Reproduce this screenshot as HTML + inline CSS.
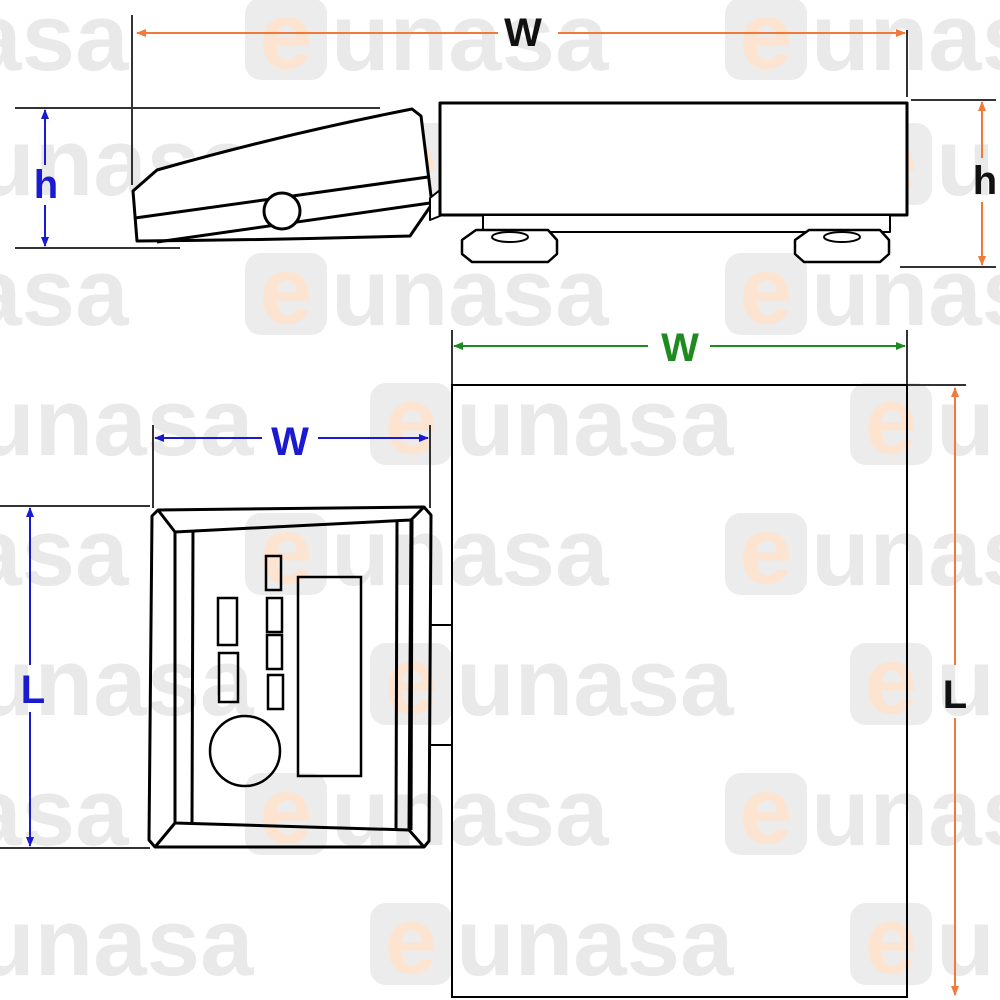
<!DOCTYPE html>
<html><head><meta charset="utf-8"><style>
html,body{margin:0;padding:0;background:#fff}
svg{display:block}
.wt{font-family:"Liberation Sans",sans-serif;font-weight:bold;font-size:100px;fill:#e9e9e9}
.lbl{font-family:"Liberation Sans",sans-serif;font-weight:bold;font-size:40px}
</style></head><body>
<svg width="1000" height="1000" viewBox="0 0 1000 1000" xmlns="http://www.w3.org/2000/svg">
<defs>
<g id="wm">
<rect x="0" y="-42" width="82" height="82" rx="16" fill="#ececec"/>
<text x="41" y="28" text-anchor="middle" class="wt" style="fill:#fde4d0;font-size:95px">e</text>
<text x="86" y="30" class="wt" style="font-size:96px">unasa</text>
</g>
<marker id="ao" markerWidth="10" markerHeight="10" refX="9" refY="5" orient="auto-start-reverse" markerUnits="userSpaceOnUse"><path d="M0,1 L10,5 L0,9 z" fill="#f07a3a"/></marker>
<marker id="ab" markerWidth="10" markerHeight="10" refX="9" refY="5" orient="auto-start-reverse" markerUnits="userSpaceOnUse"><path d="M0,1 L10,5 L0,9 z" fill="#1a1ad0"/></marker>
<marker id="ag" markerWidth="10" markerHeight="10" refX="9" refY="5" orient="auto-start-reverse" markerUnits="userSpaceOnUse"><path d="M0,1 L10,5 L0,9 z" fill="#1f8a1f"/></marker>
</defs>
<!-- watermarks -->
<g>
<use href="#wm" x="-235" y="40"/><use href="#wm" x="245" y="40"/><use href="#wm" x="725" y="40"/>
<use href="#wm" x="-110" y="165"/><use href="#wm" x="370" y="165"/><use href="#wm" x="850" y="165"/>
<use href="#wm" x="-235" y="295"/><use href="#wm" x="245" y="295"/><use href="#wm" x="725" y="295"/>
<use href="#wm" x="-110" y="425"/><use href="#wm" x="370" y="425"/><use href="#wm" x="850" y="425"/>
<use href="#wm" x="-235" y="555"/><use href="#wm" x="245" y="555"/><use href="#wm" x="725" y="555"/>
<use href="#wm" x="-110" y="685"/><use href="#wm" x="370" y="685"/><use href="#wm" x="850" y="685"/>
<use href="#wm" x="-235" y="815"/><use href="#wm" x="245" y="815"/><use href="#wm" x="725" y="815"/>
<use href="#wm" x="-110" y="945"/><use href="#wm" x="370" y="945"/><use href="#wm" x="850" y="945"/>
</g>

<g stroke="#333" stroke-width="2" fill="none">
<!-- extension lines -->
<line x1="132" y1="15" x2="132" y2="185"/>
<line x1="907" y1="30" x2="907" y2="97"/>
<line x1="15" y1="108" x2="380" y2="108"/>
<line x1="15" y1="248" x2="180" y2="248"/>
<line x1="911" y1="100" x2="996" y2="100"/>
<line x1="900" y1="267" x2="996" y2="267"/>
<line x1="452" y1="330" x2="452" y2="385"/>
<line x1="907" y1="330" x2="907" y2="385"/>
<line x1="907" y1="385" x2="966" y2="385"/>
<line x1="153" y1="425" x2="153" y2="508"/>
<line x1="430" y1="425" x2="430" y2="508"/>
<line x1="0" y1="506" x2="150" y2="506"/>
<line x1="0" y1="848" x2="150" y2="848"/>
</g>

<!-- dimension arrows -->
<g stroke-width="2" fill="none">
<line x1="137" y1="33" x2="498" y2="33" stroke="#f07a3a" marker-start="url(#ao)"/>
<line x1="558" y1="33" x2="905" y2="33" stroke="#f07a3a" marker-end="url(#ao)"/>
<line x1="45" y1="110" x2="45" y2="165" stroke="#1a1ad0" marker-start="url(#ab)"/>
<line x1="45" y1="205" x2="45" y2="246" stroke="#1a1ad0" marker-end="url(#ab)"/>
<line x1="982" y1="102" x2="982" y2="158" stroke="#f07a3a" marker-start="url(#ao)"/>
<line x1="982" y1="202" x2="982" y2="265" stroke="#f07a3a" marker-end="url(#ao)"/>
<line x1="454" y1="346" x2="648" y2="346" stroke="#1f8a1f" marker-start="url(#ag)"/>
<line x1="710" y1="346" x2="905" y2="346" stroke="#1f8a1f" marker-end="url(#ag)"/>
<line x1="955" y1="388" x2="955" y2="665" stroke="#f07a3a" marker-start="url(#ao)"/>
<line x1="955" y1="718" x2="955" y2="995" stroke="#f07a3a" marker-end="url(#ao)"/>
<line x1="155" y1="438" x2="262" y2="438" stroke="#1a1ad0" marker-start="url(#ab)"/>
<line x1="318" y1="438" x2="428" y2="438" stroke="#1a1ad0" marker-end="url(#ab)"/>
<line x1="30" y1="508" x2="30" y2="665" stroke="#1a1ad0" marker-start="url(#ab)"/>
<line x1="30" y1="712" x2="30" y2="846" stroke="#1a1ad0" marker-end="url(#ab)"/>
</g>
<text x="523" y="46" text-anchor="middle" class="lbl" fill="#111">W</text>
<text x="46" y="198" text-anchor="middle" class="lbl" fill="#1a1ad0">h</text>
<text x="985" y="194" text-anchor="middle" class="lbl" fill="#111">h</text>
<text x="680" y="361" text-anchor="middle" class="lbl" fill="#1f8a1f">W</text>
<text x="955" y="708" text-anchor="middle" class="lbl" fill="#111">L</text>
<text x="290" y="455" text-anchor="middle" class="lbl" fill="#1a1ad0">W</text>
<text x="33" y="703" text-anchor="middle" class="lbl" fill="#1a1ad0">L</text>

<!-- side view -->
<g stroke="#000" stroke-width="3" fill="#fff" stroke-linejoin="round">
<path d="M133,191 L157,170 Q280,135 412,109 L421,116 L432,204 L410,236 Q270,240 137,241 Z"/>
<path d="M430,198 L440,190 L440,216 L430,220 Z" stroke-width="2"/>
<rect x="440" y="103" width="467" height="112"/>
<rect x="483" y="215" width="407" height="17" stroke-width="2"/>
<path d="M476,230 L548,230 L557,240 L557,254 L548,262 L472,262 L462,254 L462,240 Z" stroke-width="2.5"/>
<ellipse cx="510" cy="237" rx="18" ry="5" stroke-width="2"/>
<path d="M809,230 L880,230 L889,240 L889,254 L880,262 L804,262 L795,254 L795,240 Z" stroke-width="2.5"/>
<ellipse cx="842" cy="237" rx="18" ry="5" stroke-width="2"/>
</g>
<g stroke="#000" stroke-width="3" fill="none">
<line x1="135" y1="218" x2="428" y2="177"/>
<line x1="157" y1="242" x2="430" y2="203"/>
</g>
<circle cx="282" cy="211" r="18" stroke="#000" stroke-width="3" fill="#fff"/>

<!-- top view -->
<rect x="452" y="385" width="455" height="612" fill="none" stroke="#000" stroke-width="2"/>
<path d="M452,625 L430,625 L430,745 L452,745" fill="none" stroke="#000" stroke-width="2"/>
<g stroke="#000" stroke-width="3" fill="none" stroke-linejoin="round">
<path d="M158,510 L424,507 L431,515 L429,841 L424,847 L155,847 L149,840 L152,516 Z"/>
<path d="M175,532 L411,520 L409,830 L175,823 Z"/>
<line x1="158" y1="510" x2="175" y2="532"/>
<line x1="424" y1="507" x2="411" y2="520"/>
<line x1="424" y1="847" x2="409" y2="830"/>
<line x1="155" y1="847" x2="175" y2="823"/>
<line x1="193" y1="530" x2="192" y2="823"/>
<line x1="397" y1="521" x2="396" y2="829"/>
<line x1="412" y1="520" x2="411" y2="830"/>
</g>
<g stroke="#000" stroke-width="2.5" fill="none">
<rect x="218" y="598" width="19" height="47"/>
<rect x="219" y="653" width="19" height="49"/>
<rect x="266" y="556" width="15" height="34"/>
<rect x="267" y="598" width="15" height="34"/>
<rect x="267" y="635" width="15" height="34"/>
<rect x="268" y="675" width="15" height="34"/>
<rect x="298" y="577" width="63" height="199"/>
<circle cx="245" cy="751" r="35"/>
</g>
</svg>
</body></html>
